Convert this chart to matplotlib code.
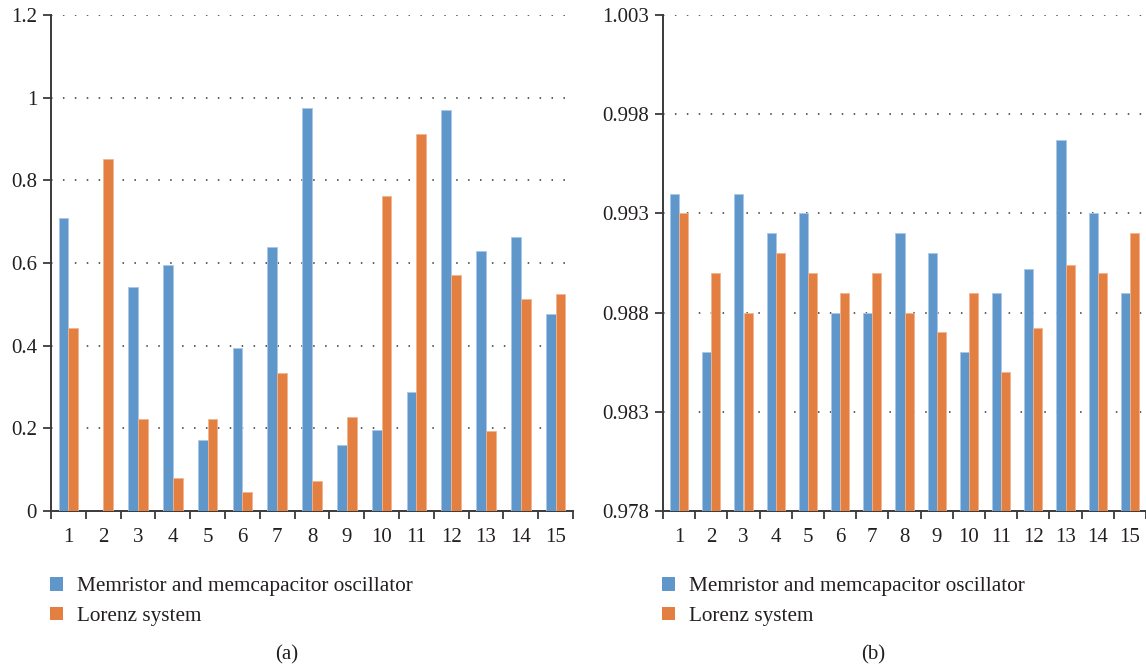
import matplotlib
matplotlib.use("Agg")
import matplotlib.pyplot as plt
import numpy as np
from matplotlib.patches import Patch

plt.rcParams['font.family'] = ['Liberation Serif', 'DejaVu Serif']

categories = [str(i) for i in range(1, 16)]
series_names = ["Memristor and memcapacitor oscillator", "Lorenz system"]

a_memristor = [0.710, 0.0, 0.541, 0.595, 0.171, 0.395, 0.639, 0.975, 0.160,
               0.197, 0.287, 0.970, 0.630, 0.664, 0.476]
a_lorenz = [0.443, 0.852, 0.223, 0.080, 0.223, 0.046, 0.334, 0.072, 0.228,
            0.763, 0.913, 0.570, 0.193, 0.513, 0.524]

b_memristor = [0.9940, 0.9860, 0.9940, 0.9920, 0.9930, 0.9880, 0.9880, 0.9920,
               0.9910, 0.9860, 0.9890, 0.9902, 0.9967, 0.9930, 0.9890]
b_lorenz = [0.9930, 0.9900, 0.9880, 0.9910, 0.9900, 0.9890, 0.9900, 0.9880,
            0.9870, 0.9890, 0.9850, 0.9872, 0.9904, 0.9900, 0.9920]

a_yticks = [0, 0.2, 0.4, 0.6, 0.8, 1.0, 1.2]
a_yticklabels = ["0", "0.2", "0.4", "0.6", "0.8", "1", "1.2"]
b_yticks = [0.978, 0.983, 0.988, 0.993, 0.998, 1.003]
b_yticklabels = ["0.978", "0.983", "0.988", "0.993", "0.998", "1.003"]

BLUE = "#6097CB"
ORANGE = "#E37F41"
TEXT = "#231F20"
SPINE = "#3a3a3a"

fig = plt.figure(figsize=(11.46, 6.69), dpi=100)

W, H = 1146, 669
def axrect(x0, x1, ytop, ybot):
    return [x0 / W, (H - ybot) / H, (x1 - x0) / W, (ybot - ytop) / H]

ax1 = fig.add_axes(axrect(51, 573, 15, 511))
ax2 = fig.add_axes(axrect(663, 1146, 15, 511))

def draw(ax, s1, s2, yticks, yticklabels):
    x = np.arange(1, len(categories) + 1)
    w = 0.28
    base = yticks[0]
    ax.set_xlim(0.5, len(categories) + 0.5)
    ax.set_ylim(yticks[0], yticks[-1])
    ax.bar(x - w / 2, np.array(s1) - base, width=w, bottom=base, color=BLUE,
           edgecolor="#a9c8e8", linewidth=0.6, zorder=3)
    ax.bar(x + w / 2, np.array(s2) - base, width=w, bottom=base, color=ORANGE,
           edgecolor="#f0b48f", linewidth=0.6, zorder=3)
    ax.set_yticks(yticks)
    ax.set_yticklabels(yticklabels)
    ax.set_xticks(x)
    ax.set_xticklabels(categories)
    ax.set_xticks(np.arange(0.5, len(categories) + 1.0, 1.0), minor=True)
    ax.tick_params(axis='x', which='major', length=0, pad=12, labelsize=15, colors=TEXT)
    ax.tick_params(axis='x', which='minor', length=6, width=1.3, color=SPINE, direction='out')
    ax.tick_params(axis='y', length=6, width=1.3, color=SPINE, labelsize=15,
                   labelcolor=TEXT, pad=4)
    for side in ("top", "right"):
        ax.spines[side].set_visible(False)
    for side in ("left", "bottom"):
        ax.spines[side].set_color(SPINE)
        ax.spines[side].set_linewidth(1.4)
    for yv in yticks[1:]:
        ax.axhline(yv, color="#333333", linewidth=1.1, linestyle=(0, (1, 6.8)), zorder=1)

draw(ax1, a_memristor, a_lorenz, a_yticks, a_yticklabels)
draw(ax2, b_memristor, b_lorenz, b_yticks, b_yticklabels)

handles = [Patch(facecolor=BLUE, edgecolor='none'), Patch(facecolor=ORANGE, edgecolor='none')]
for xleft in (31 / W, 643 / W):
    fig.legend(handles, series_names, loc="upper left",
               bbox_to_anchor=(xleft, (H - 558) / H), frameon=False,
               fontsize=15.3, handlelength=0.6, handleheight=0.6, handletextpad=0.65,
               labelspacing=0.5, labelcolor=TEXT)

fig.text(287 / W, (H - 655) / H, "(a)", ha="center", va="center", fontsize=15, color=TEXT)
fig.text(873 / W, (H - 655) / H, "(b)", ha="center", va="center", fontsize=15, color=TEXT)

fig.savefig("out.png", dpi=100)
